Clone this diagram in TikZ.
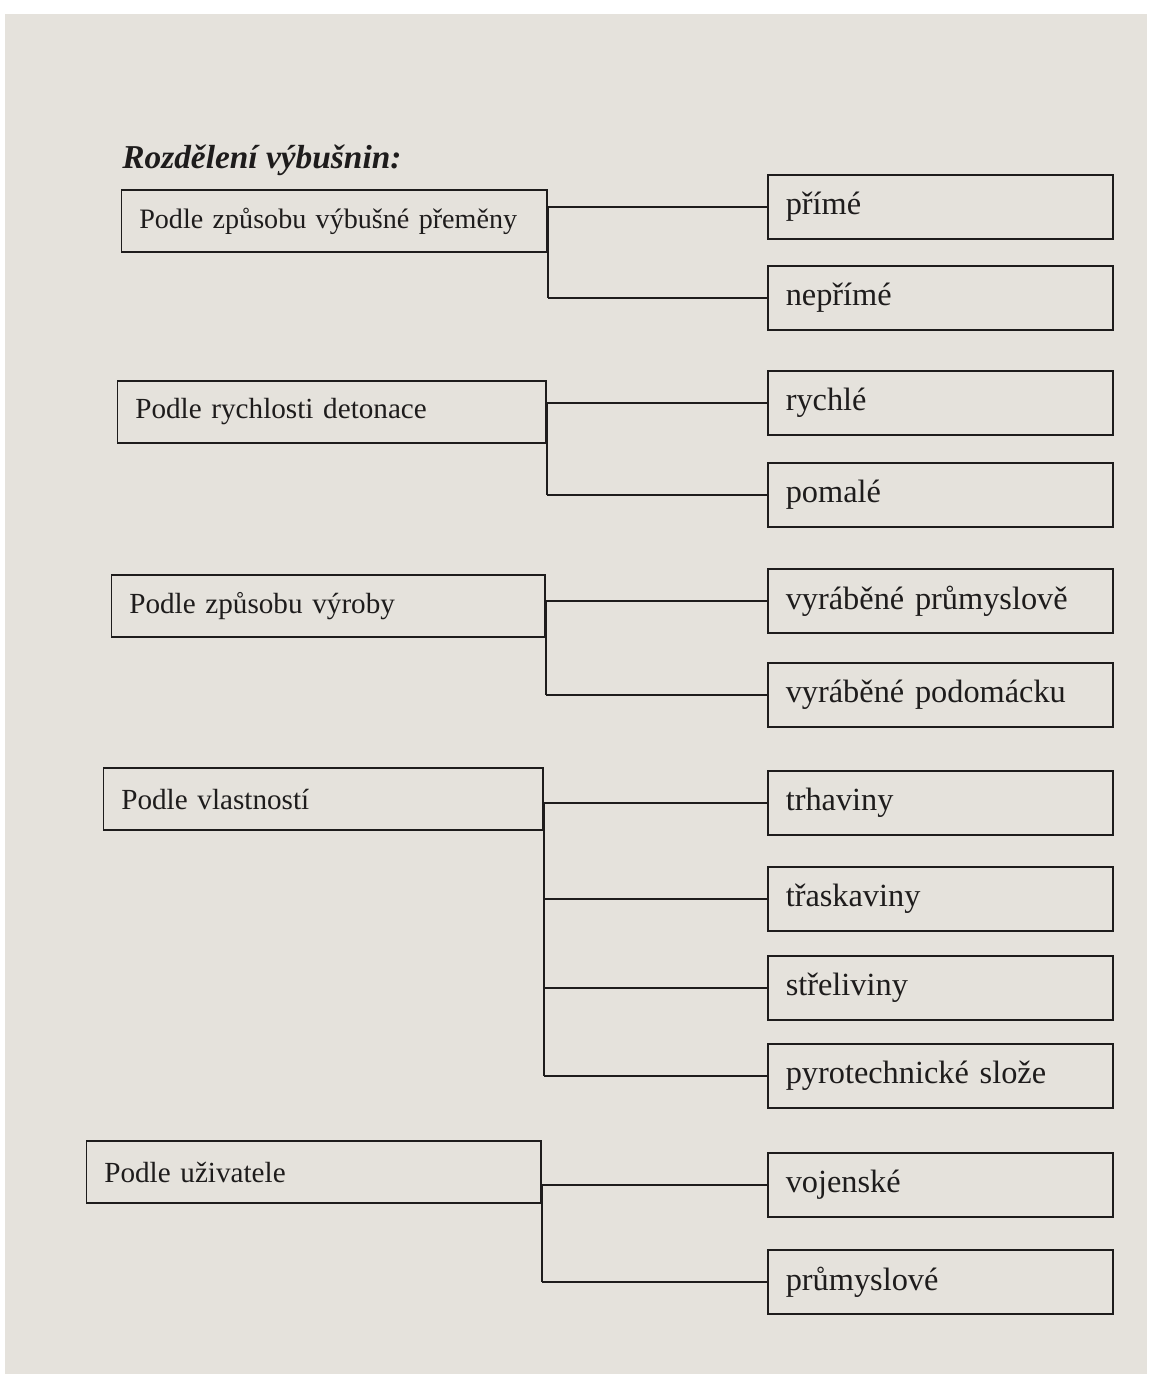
\documentclass[tikz,border=0pt]{standalone}
\usepackage{fontspec}
\setmainfont{Liberation Serif}
\usepackage{tikz}
\usetikzlibrary{positioning}
\usepackage{xcolor}
\definecolor{PageColor}{RGB}{229,226,220}
\definecolor{InkColor} {RGB}{30,28,28}

\tikzset{
  druh/.style={draw=InkColor,line width=0.9pt,rectangle,anchor=east,align=left,
               text width=#1,inner xsep=0.36cm,minimum height=1.24cm,
               font=\fontsize{16.6}{19}\selectfont},
  druh/.default=8.08cm,
  typ/.style={draw=InkColor,line width=0.9pt,rectangle,anchor=west,align=left,
              text width=6.18cm,inner xsep=0.36cm,minimum height=1.28cm,
              font=\fontsize{18.4}{21}\selectfont},
  spoj/.style={draw=InkColor,line width=0.9pt}
}

\begin{document}
\begin{tikzpicture}[x=0.02cm,y=-0.02cm,every node/.style={text=InkColor}]
\useasboundingbox (0,0) rectangle (1149,1380);
\fill[white] (0,0) rectangle (1149,1380);
\fill[PageColor] (5,14) rectangle (1147,1374);

\node[anchor=base west,inner sep=0pt,font=\fontsize{19}{22}\selectfont\bfseries\itshape] (nadpis) at (122,168) {Rozdělení výbušnin:};

% kriteria
\node[druh=7.80cm,font=\fontsize{16}{19}\selectfont] (premena) at (548,221) {Podle způsobu výbušné přeměny};
\node[druh=7.86cm] (rychlost)  at (547,412)  {Podle rychlosti detonace};
\node[druh=7.96cm] (vyroba)    at (546,606)  {Podle způsobu výroby};
\node[druh=8.08cm] (vlastnost) at (544,799)  {Podle vlastností};
\node[druh=8.38cm] (uzivatel)  at (542,1172) {Podle uživatele};

% skupiny
\node[typ] (prime)     at (767,207)  {přímé};
\node[typ] (neprime)   at (767,298)  {nepřímé};
\node[typ] (rychle)    at (767,403)  {rychlé};
\node[typ] (pomale)    at (767,495)  {pomalé};
\node[typ] (prumysl)   at (767,601)  {vyráběné průmyslově};
\node[typ] (domaci)    at (767,695)  {vyráběné podomácku};
\node[typ] (trhaviny)  at (767,803)  {trhaviny};
\node[typ] (traskav)   at (767,899)  {třaskaviny};
\node[typ] (strelivo)  at (767,988)  {střeliviny};
\node[typ] (pyro)      at (767,1076) {pyrotechnické slože};
\node[typ] (vojenske)  at (767,1185) {vojenské};
\node[typ] (prumyslove) at (767,1282) {průmyslové};

% spojnice
\foreach \n in {prime,neprime} \draw[spoj] (premena.east |- \n.west) -- (\n.west);
\draw[spoj] (premena.east |- prime.west) -- (premena.east |- neprime.west);
\foreach \n in {rychle,pomale} \draw[spoj] (rychlost.east |- \n.west) -- (\n.west);
\draw[spoj] (rychlost.east |- rychle.west) -- (rychlost.east |- pomale.west);
\foreach \n in {prumysl,domaci} \draw[spoj] (vyroba.east |- \n.west) -- (\n.west);
\draw[spoj] (vyroba.east |- prumysl.west) -- (vyroba.east |- domaci.west);
\foreach \n in {trhaviny,traskav,strelivo,pyro} \draw[spoj] (vlastnost.east |- \n.west) -- (\n.west);
\draw[spoj] (vlastnost.east |- trhaviny.west) -- (vlastnost.east |- pyro.west);
\foreach \n in {vojenske,prumyslove} \draw[spoj] (uzivatel.east |- \n.west) -- (\n.west);
\draw[spoj] (uzivatel.east |- vojenske.west) -- (uzivatel.east |- prumyslove.west);
\end{tikzpicture}
\end{document}
